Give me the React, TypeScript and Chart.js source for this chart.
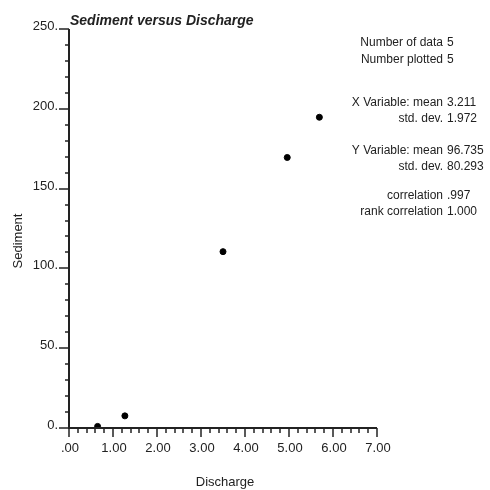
import React, { useEffect, useRef } from "react";
import { Chart, registerables } from "chart.js";

Chart.register(...registerables);

const discharge = [0.65, 1.27, 3.5, 4.96, 5.69];
const sediment = [1.0, 7.6, 110.5, 169.5, 194.7];

const yMajorTicks = [0, 50, 100, 150, 200, 250];
const yTickLabels = ["0.", "50.", "100.", "150.", "200.", "250."];
const xMajorTicks = [0, 1, 2, 3, 4, 5, 6, 7];
const xTickLabels = [".00", "1.00", "2.00", "3.00", "4.00", "5.00", "6.00", "7.00"];

const titleText = "Sediment versus Discharge";
const xTitle = "Discharge";
const yTitle = "Sediment";

const statLabels = [
  "Number of data",
  "Number plotted",
  "X Variable: mean",
  "std. dev.",
  "Y Variable: mean",
  "std. dev.",
  "correlation",
  "rank correlation",
];
const statValues = ["5", "5", "3.211", "1.972", "96.735", "80.293", ".997", "1.000"];
const statRows = [43, 60, 103, 119, 151, 167, 196, 212];

const FONT = '"Liberation Sans", Arial, sans-serif';
const INK = "#222";

const axisPlugin = {
  id: "customAxes",
  afterDraw(chart: any) {
    const ctx = chart.ctx as CanvasRenderingContext2D;
    const xs = chart.scales.x;
    const ys = chart.scales.y;
    const x0 = xs.getPixelForValue(0);
    const x1 = xs.getPixelForValue(7);
    const y0 = ys.getPixelForValue(0);
    const y1 = ys.getPixelForValue(250);
    ctx.save();
    ctx.strokeStyle = INK;
    ctx.fillStyle = INK;
    ctx.lineWidth = 2;
    ctx.beginPath();
    ctx.moveTo(x0, y1);
    ctx.lineTo(x0, y0);
    ctx.lineTo(x1, y0);
    ctx.stroke();
    ctx.lineWidth = 1.5;
    for (let v = 0; v <= 250; v += 10) {
      const y = Math.round(ys.getPixelForValue(v));
      const major = v % 50 === 0;
      ctx.beginPath();
      ctx.moveTo(x0, y);
      ctx.lineTo(x0 - (major ? 10 : 4), y);
      ctx.stroke();
    }
    for (let i = 0; i <= 35; i++) {
      const v = i * 0.2;
      const x = Math.round(xs.getPixelForValue(v));
      const major = i % 5 === 0;
      ctx.beginPath();
      ctx.moveTo(x, y0);
      ctx.lineTo(x, y0 + (major ? 9 : 5));
      ctx.stroke();
    }
    ctx.font = `13px ${FONT}`;
    ctx.textAlign = "right";
    ctx.textBaseline = "alphabetic";
    yMajorTicks.forEach((v, i) => {
      const y = ys.getPixelForValue(v);
      ctx.fillText(yTickLabels[i], x0 - 11, y + 1);
    });
    ctx.textAlign = "center";
    ctx.textBaseline = "top";
    xMajorTicks.forEach((v, i) => {
      const x = xs.getPixelForValue(v);
      ctx.fillText(xTickLabels[i], x + 1, y0 + 14);
    });
    ctx.textBaseline = "middle";
    ctx.fillText(xTitle, (x0 + x1) / 2 + 2, 482);
    ctx.save();
    ctx.translate(18, 241);
    ctx.rotate(-Math.PI / 2);
    ctx.fillText(yTitle, 0, 0);
    ctx.restore();
    ctx.font = `italic bold 14px ${FONT}`;
    ctx.textAlign = "left";
    ctx.textBaseline = "alphabetic";
    ctx.fillText(titleText, x0 + 1, 25);
    ctx.font = `12px ${FONT}`;
    ctx.textBaseline = "middle";
    statLabels.forEach((s, i) => {
      ctx.textAlign = "right";
      ctx.fillText(s, 443, statRows[i]);
      ctx.textAlign = "left";
      ctx.fillText(statValues[i], 447, statRows[i]);
    });
    ctx.restore();
  },
};

export default function App() {
  const ref = useRef<HTMLCanvasElement>(null);
  useEffect(() => {
    if (!ref.current) return;
    const chart = new Chart(ref.current, {
      type: "scatter",
      data: {
        datasets: [
          {
            data: discharge.map((x, i) => ({ x, y: sediment[i] })),
            backgroundColor: "#000",
            borderColor: "#000",
            pointRadius: 3,
            pointHoverRadius: 3,
          },
        ],
      },
      options: {
        responsive: false,
        animation: false,
        layout: { padding: { left: 69, top: 29, right: 113, bottom: 62 } },
        plugins: { legend: { display: false }, tooltip: { enabled: false } },
        scales: {
          x: { type: "linear", min: 0, max: 7, display: false },
          y: { type: "linear", min: 0, max: 250, display: false },
        },
      },
      plugins: [axisPlugin],
    });
    return () => chart.destroy();
  }, []);
  return (
    <div style={{ position: "fixed", left: 0, top: 0, width: 490, height: 490, background: "#fff" }}>
      <canvas ref={ref} width={490} height={490} />
    </div>
  );
}
